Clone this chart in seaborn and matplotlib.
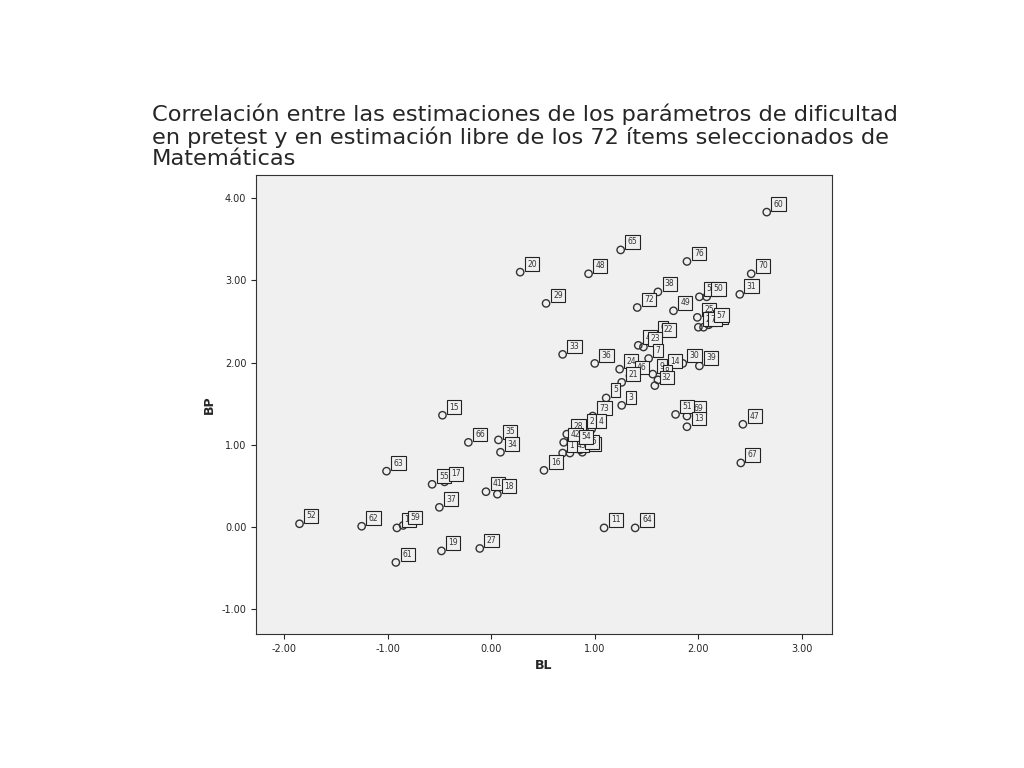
import matplotlib
matplotlib.use("Agg")
import matplotlib.pyplot as plt
import seaborn as sns
import pandas as pd

# item ids, BL (free estimation) and BP (pretest) difficulty
items = [60, 65, 76, 20, 48, 70, 56, 50, 38, 31, 29, 72, 49, 25, 26, 40, 71, 57,
         44, 6, 22, 23, 33, 36, 24, 7, 46, 14, 30, 39, 5, 3, 9, 8, 32, 69, 51, 13,
         47, 67, 73, 21, 28, 2, 4, 12, 43, 1, 42, 45, 54, 16, 11, 64, 15, 66, 35,
         34, 63, 55, 17, 41, 18, 37, 52, 62, 10, 59, 19, 27, 61]
bl = [2.66, 1.25, 1.89, 0.28, 0.94, 2.51, 2.01, 2.08, 1.61, 2.40, 0.53, 1.41,
      1.76, 1.99, 2.00, 2.10, 2.05, 2.11, 1.42, 1.57, 1.60, 1.47, 0.69, 1.00,
      1.24, 1.52, 1.34, 1.66, 1.85, 2.01, 1.11, 1.26, 1.56, 1.61, 1.58, 1.89,
      1.78, 1.89, 2.43, 2.41, 0.98, 1.26, 0.73, 0.88, 0.97, 0.88, 0.76, 0.69,
      0.70, 0.86, 0.80, 0.51, 1.09, 1.39, -0.47, -0.22, 0.07, 0.09, -1.01,
      -0.57, -0.45, -0.05, 0.06, -0.50, -1.85, -1.25, -0.91, -0.85, -0.48,
      -0.11, -0.92]
bp = [3.83, 3.37, 3.23, 3.10, 3.08, 3.08, 2.80, 2.80, 2.86, 2.83, 2.72, 2.67,
      2.63, 2.55, 2.43, 2.46, 2.43, 2.48, 2.21, 2.33, 2.30, 2.19, 2.10, 1.99,
      1.92, 2.05, 1.84, 1.92, 1.99, 1.96, 1.57, 1.48, 1.86, 1.79, 1.72, 1.35,
      1.37, 1.22, 1.25, 0.78, 1.35, 1.76, 1.13, 1.19, 1.19, 0.91, 0.90, 0.90,
      1.03, 0.94, 1.00, 0.69, -0.01, -0.01, 1.36, 1.03, 1.06, 0.91, 0.68, 0.52,
      0.55, 0.43, 0.40, 0.24, 0.04, 0.01, -0.01, 0.02, -0.29, -0.26, -0.43]

df = pd.DataFrame({"item": items, "BL": bl, "BP": bp})

sns.set_style("ticks")
fig = plt.figure(figsize=(10.24, 7.68), dpi=100)
ax = fig.add_axes([0.25, 0.1745, 0.5625, 0.5975])
ax.set_facecolor("#f0f0f0")

sns.scatterplot(data=df, x="BL", y="BP", ax=ax, s=28, facecolor="none",
                edgecolor="#333333", linewidth=1)
for _, r in df.iterrows():
    ax.annotate(str(int(r["item"])), (r["BL"], r["BP"]), xytext=(5, 4),
                textcoords="offset points", fontsize=5.5, color="#333333",
                bbox=dict(boxstyle="square,pad=0.3", fc="#f0f0f0", ec="#222222", lw=0.8))

ax.set_xlim(-2.27, 3.29)
ax.set_ylim(-1.30, 4.28)
ax.set_xticks([-2, -1, 0, 1, 2, 3])
ax.set_yticks([-1, 0, 1, 2, 3, 4])
ax.set_xticklabels([f"{v:.2f}" for v in ax.get_xticks()])
ax.set_yticklabels([f"{v:.2f}" for v in ax.get_yticks()])
ax.tick_params(labelsize=7)
ax.set_xlabel("BL", fontsize=9, fontweight="bold")
ax.set_ylabel("BP", fontsize=9, fontweight="bold")
for sp in ax.spines.values():
    sp.set_color("#333333")

fig.text(0.148, 0.78,
         "Correlación entre las estimaciones de los parámetros de dificultad\n"
         "en pretest y en estimación libre de los 72 ítems seleccionados de\n"
         "Matemáticas", fontsize=16.2, va="bottom", ha="left", linespacing=1.08)

fig.savefig("out.png", dpi=100)
